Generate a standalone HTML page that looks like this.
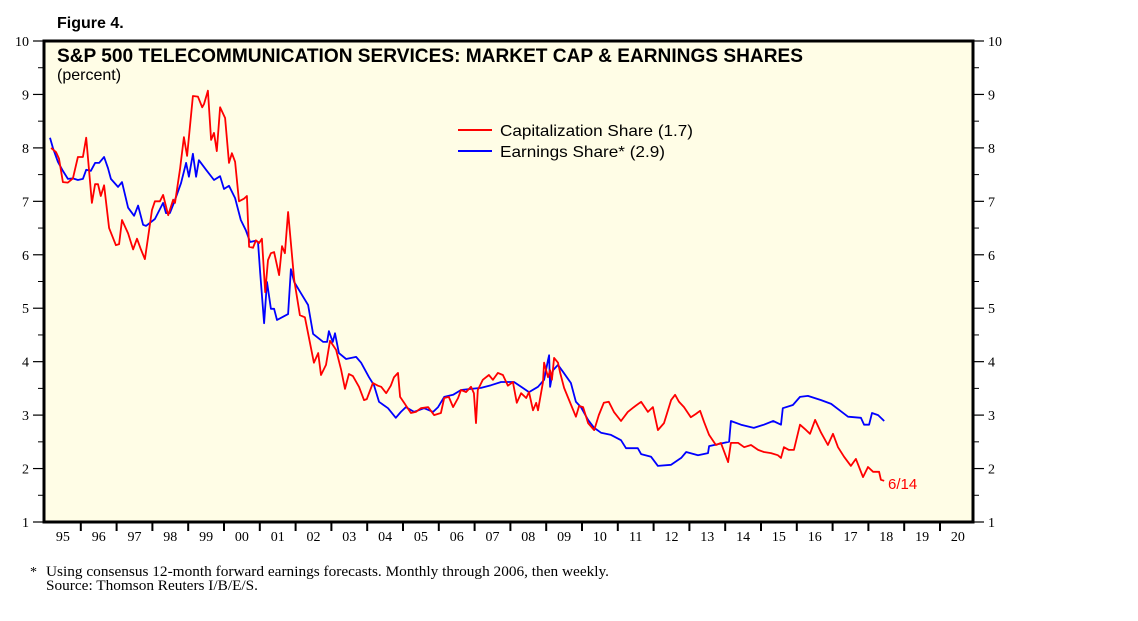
<!DOCTYPE html>
<html><head><meta charset="utf-8"><style>
body{margin:0;background:#fff;}
svg{display:block;}
</style></head><body>
<svg id="chart" width="1138" height="621" viewBox="0 0 1138 621" xmlns="http://www.w3.org/2000/svg">
<text x="57" y="28" font-family="Liberation Sans, sans-serif" font-weight="bold" font-size="16">Figure 4.</text>
<rect x="44" y="41" width="929" height="481" fill="#fffde6"/>
<g id="axes"></g>
<g id="series"></g>
<rect x="44" y="41" width="929" height="481" fill="none" stroke="#000" stroke-width="3"/>
<text x="57" y="62" font-family="Liberation Sans, sans-serif" font-weight="bold" font-size="19" textLength="746" lengthAdjust="spacingAndGlyphs">S&amp;P 500 TELECOMMUNICATION SERVICES: MARKET CAP &amp; EARNINGS SHARES</text>
<text x="57" y="80" font-family="Liberation Sans, sans-serif" font-size="16">(percent)</text>
<g>
<line x1="458" y1="130" x2="492" y2="130" stroke="#f00" stroke-width="2"/>
<text x="500" y="136" font-family="Liberation Sans, sans-serif" font-size="16" textLength="193" lengthAdjust="spacingAndGlyphs">Capitalization Share (1.7)</text>
<line x1="458" y1="151" x2="492" y2="151" stroke="#00f" stroke-width="2"/>
<text x="500" y="157" font-family="Liberation Sans, sans-serif" font-size="16" textLength="165" lengthAdjust="spacingAndGlyphs">Earnings Share* (2.9)</text>
</g>
<text x="888" y="489" fill="#f00" font-family="Liberation Sans, sans-serif" font-size="15">6/14</text>
<text x="30" y="576" font-family="Liberation Serif, serif" font-size="14">*</text>
<text x="46" y="576" font-family="Liberation Serif, serif" font-size="14.5" textLength="563" lengthAdjust="spacingAndGlyphs">Using consensus 12-month forward earnings forecasts. Monthly through 2006, then weekly.</text>
<text x="46" y="590" font-family="Liberation Serif, serif" font-size="14.5" textLength="212" lengthAdjust="spacingAndGlyphs">Source: Thomson Reuters I/B/E/S.</text>
</svg>
<script>
const yTicks=[1,2,3,4,5,6,7,8,9,10];
const yearLabels=["95","96","97","98","99","00","01","02","03","04","05","06","07","08","09","10","11","12","13","14","15","16","17","18","19","20"];
const capYears=[1995.17,1995.31,1995.39,1995.50,1995.64,1995.78,1995.92,1996.06,1996.15,1996.31,1996.40,1996.48,1996.56,1996.65,1996.79,1996.98,1997.07,1997.15,1997.32,1997.46,1997.57,1997.68,1997.79,1997.88,1997.99,1998.07,1998.21,1998.30,1998.44,1998.58,1998.63,1998.77,1998.88,1998.97,1999.13,1999.27,1999.39,1999.44,1999.55,1999.64,1999.72,1999.80,1999.89,2000.03,2000.14,2000.22,2000.31,2000.42,2000.56,2000.64,2000.70,2000.81,2000.89,2000.98,2001.06,2001.15,2001.23,2001.31,2001.40,2001.54,2001.62,2001.70,2001.79,2001.96,2002.12,2002.26,2002.51,2002.63,2002.71,2002.85,2002.96,2003.13,2003.27,2003.38,2003.49,2003.60,2003.77,2003.91,2003.99,2004.16,2004.30,2004.39,2004.53,2004.66,2004.75,2004.86,2004.92,2005.03,2005.22,2005.36,2005.50,2005.70,2005.87,2006.06,2006.15,2006.28,2006.40,2006.54,2006.62,2006.76,2006.90,2006.98,2007.04,2007.09,2007.23,2007.40,2007.51,2007.65,2007.79,2007.93,2008.07,2008.18,2008.30,2008.44,2008.52,2008.63,2008.72,2008.77,2008.91,2008.94,2009.05,2009.11,2009.16,2009.22,2009.33,2009.39,2009.50,2009.64,2009.83,2009.92,2010.03,2010.17,2010.34,2010.47,2010.61,2010.75,2010.89,2011.09,2011.28,2011.45,2011.65,2011.84,2011.98,2012.12,2012.29,2012.49,2012.60,2012.71,2012.85,2013.04,2013.18,2013.30,2013.41,2013.55,2013.74,2013.88,2014.08,2014.16,2014.36,2014.53,2014.72,2014.92,2015.08,2015.28,2015.47,2015.56,2015.64,2015.78,2015.92,2016.09,2016.26,2016.37,2016.51,2016.68,2016.87,2017.01,2017.15,2017.32,2017.51,2017.65,2017.85,2017.99,2018.13,2018.30,2018.35,2018.44];
const capValues=[8.0,7.92,7.8,7.36,7.35,7.43,7.83,7.83,8.19,6.97,7.32,7.32,7.1,7.3,6.5,6.18,6.2,6.65,6.4,6.1,6.3,6.1,5.92,6.33,6.84,7.0,7.0,7.12,6.74,7.03,6.97,7.6,8.2,7.85,8.97,8.96,8.76,8.82,9.07,8.15,8.28,7.94,8.76,8.56,7.72,7.9,7.74,7.0,7.05,7.1,6.15,6.13,6.27,6.22,6.3,5.3,5.9,6.03,6.05,5.62,6.16,6.03,6.8,5.53,4.87,4.83,3.98,4.16,3.75,3.94,4.39,4.22,3.85,3.49,3.77,3.73,3.53,3.28,3.3,3.6,3.55,3.53,3.41,3.55,3.71,3.79,3.34,3.23,3.04,3.06,3.13,3.15,3.0,3.04,3.32,3.34,3.15,3.32,3.47,3.43,3.53,3.41,2.85,3.47,3.66,3.75,3.66,3.79,3.75,3.55,3.62,3.23,3.41,3.32,3.43,3.09,3.23,3.09,3.62,3.98,3.71,3.84,3.66,4.07,3.98,3.79,3.51,3.28,2.97,3.17,3.15,2.85,2.72,3.0,3.23,3.25,3.06,2.89,3.06,3.15,3.25,3.06,3.15,2.72,2.85,3.28,3.38,3.25,3.15,2.96,3.02,3.08,2.87,2.63,2.44,2.48,2.12,2.48,2.48,2.4,2.44,2.35,2.31,2.29,2.25,2.2,2.4,2.35,2.35,2.82,2.72,2.65,2.91,2.67,2.44,2.65,2.4,2.22,2.05,2.18,1.84,2.03,1.94,1.94,1.79,1.77];
const earnYears=[1995.14,1995.22,1995.36,1995.50,1995.64,1995.78,1995.92,1996.06,1996.15,1996.28,1996.40,1996.51,1996.65,1996.76,1996.84,1997.04,1997.15,1997.32,1997.49,1997.60,1997.74,1997.82,1998.07,1998.30,1998.38,1998.49,1998.60,1998.80,1998.94,1999.02,1999.13,1999.22,1999.30,1999.50,1999.72,1999.89,2000.00,2000.14,2000.31,2000.47,2000.61,2000.73,2000.87,2000.95,2001.01,2001.12,2001.20,2001.31,2001.40,2001.48,2001.68,2001.79,2001.87,2001.96,2002.15,2002.35,2002.49,2002.77,2002.88,2002.93,2003.04,2003.10,2003.21,2003.41,2003.69,2003.83,2004.05,2004.19,2004.33,2004.58,2004.80,2004.94,2005.08,2005.31,2005.59,2005.84,2005.98,2006.15,2006.40,2006.62,2006.90,2007.18,2007.46,2007.74,2008.10,2008.30,2008.52,2008.77,2008.94,2009.05,2009.08,2009.11,2009.19,2009.33,2009.47,2009.69,2009.83,2009.97,2010.17,2010.34,2010.53,2010.81,2011.09,2011.23,2011.56,2011.65,2011.93,2012.12,2012.49,2012.77,2012.91,2013.24,2013.52,2013.55,2014.11,2014.16,2014.44,2014.80,2015.08,2015.34,2015.56,2015.61,2015.89,2016.09,2016.31,2016.68,2016.96,2017.18,2017.43,2017.79,2017.88,2018.02,2018.10,2018.27,2018.44];
const earnValues=[8.19,8.0,7.74,7.57,7.42,7.43,7.4,7.42,7.59,7.57,7.72,7.72,7.83,7.62,7.42,7.27,7.36,6.88,6.73,6.92,6.56,6.54,6.67,6.97,6.78,6.78,6.97,7.34,7.72,7.46,7.89,7.46,7.77,7.59,7.4,7.47,7.23,7.29,7.06,6.65,6.46,6.24,6.26,6.24,5.66,4.72,5.49,4.99,4.99,4.78,4.85,4.89,5.73,5.49,5.28,5.06,4.52,4.37,4.37,4.57,4.37,4.53,4.16,4.05,4.09,3.98,3.71,3.56,3.25,3.13,2.95,3.06,3.15,3.06,3.13,3.06,3.15,3.34,3.38,3.47,3.49,3.51,3.56,3.62,3.62,3.53,3.43,3.53,3.66,4.03,4.12,3.53,3.84,3.94,3.81,3.6,3.25,3.15,2.91,2.76,2.67,2.63,2.53,2.38,2.38,2.27,2.22,2.05,2.07,2.2,2.31,2.25,2.29,2.42,2.5,2.89,2.82,2.76,2.82,2.89,2.82,3.13,3.19,3.34,3.36,3.28,3.21,3.1,2.97,2.95,2.82,2.82,3.04,3.0,2.89];
const NS='http://www.w3.org/2000/svg';
function xScale(t){return 45+(t-1995)*35.8;}
function yScale(v){return 522-(v-1)*(481/9);}
function mk(tag,attrs,parent){const e=document.createElementNS(NS,tag);for(const k in attrs)e.setAttribute(k,attrs[k]);parent.appendChild(e);return e;}
const axes=document.getElementById('axes');
yTicks.forEach(v=>{
  const y=yScale(v);
  const l=mk('line',{x1:33,y1:y,x2:44,y2:y,stroke:'#000','stroke-width':1.2},axes);
  
  
  const r=mk('line',{x1:973,y1:y,x2:984,y2:y,stroke:'#000','stroke-width':1.2},axes);
  
  
  const tl=mk('text',{x:29,y:y+5,'text-anchor':'end','font-family':'Liberation Serif, serif','font-size':14},axes);
  tl.textContent=v;
  
  
  const tr=mk('text',{x:988,y:y+5,'font-family':'Liberation Serif, serif','font-size':14},axes);
  tr.textContent=v;
  
  
  if(v<10){
    const ym=yScale(v+0.5);
    const m=mk('line',{x1:38,y1:ym,x2:44,y2:ym,stroke:'#000','stroke-width':1},axes);
    
    
    const m2=mk('line',{x1:973,y1:ym,x2:979,y2:ym,stroke:'#000','stroke-width':1},axes);
    
    
  }
});
yearLabels.forEach((lab,i)=>{
  const x0=xScale(1995+i),x1=xScale(1996+i);
  if(i<yearLabels.length-1){
    const t=mk('line',{x1:x1,y1:522,x2:x1,y2:531,stroke:'#000','stroke-width':2},axes);
    
    
  }
  const tx=mk('text',{x:(x0+x1)/2,y:541,'text-anchor':'middle','font-family':'Liberation Serif, serif','font-size':14},axes);
  tx.textContent=lab;
  
  
});
const series=document.getElementById('series');
function path(xs,vs){return xs.map((t,i)=>(i?'L':'M')+xScale(t).toFixed(1)+','+yScale(vs[i]).toFixed(1)).join('');}
const pe=mk('path',{d:path(earnYears,earnValues),fill:'none',stroke:'#0000ff','stroke-width':1.8,'stroke-linejoin':'round'},series);


const pc=mk('path',{d:path(capYears,capValues),fill:'none',stroke:'#ff0000','stroke-width':1.8,'stroke-linejoin':'round'},series);


</script>
</body></html>
